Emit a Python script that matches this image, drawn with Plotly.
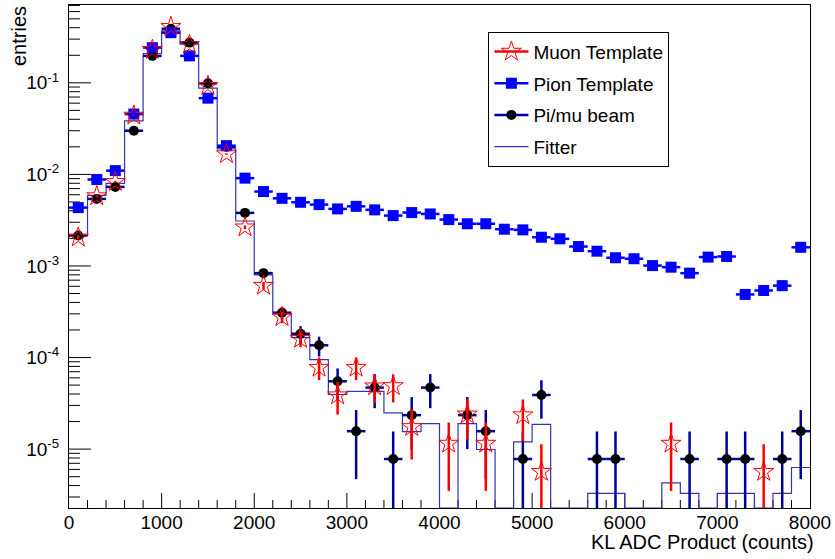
import math
import plotly.graph_objects as go

# ---------------- data ----------------
BIN_WIDTH = 200
bin_centers = list(range(100, 8000, 200))  # 40 bins, 0..8000

muon_template = [2.05e-3, 5.8e-3, 8.3e-3, 0.044, 0.23, 0.41, 0.26, 0.093, 0.0167, 2.65e-3,
                 6.1e-4, 2.77e-4, 1.6e-4, 7.76e-5, 3.88e-5, 7.76e-5, 4.86e-5, 4.9e-5, 1.75e-5, None,
                 1.15e-5, 2.4e-5, 1.15e-5, None, 2.35e-5, 5.66e-6, None, None, None, None,
                 None, None, 1.15e-5, None, None, None, None, 5.66e-6, None, None]
muon_err = [1.08e-4, 1.8e-4, 2.2e-4, 5e-4, 1.14e-3, 1.5e-3, 1.2e-3, 7.3e-4, 3.1e-4, 1.2e-4,
            5.9e-5, 4e-5, 3e-5, 2.1e-5, 1.5e-5, 2.1e-5, 1.66e-5, 1.66e-5, 9.8e-6, 0,
            8e-6, 1.13e-5, 8e-6, 0, 1.13e-5, 5.66e-6, 0, 0, 0, 0,
            0, 0, 8e-6, 0, 0, 0, 0, 5.66e-6, 0, 0]

pion_template = [4.34e-3, 8.8e-3, 1.1e-2, 4.56e-2, 0.242, 0.353, 0.197, 0.068, 0.0206, 9.1e-3,
                 6.5e-3, 5.48e-3, 4.96e-3, 4.68e-3, 4.2e-3, 4.48e-3, 4.1e-3, 3.55e-3, 3.83e-3, 3.7e-3,
                 3.21e-3, 2.89e-3, 2.89e-3, 2.52e-3, 2.48e-3, 2.06e-3, 1.98e-3, 1.63e-3, 1.45e-3, 1.23e-3,
                 1.2e-3, 1.01e-3, 9.7e-4, 8.35e-4, 1.25e-3, 1.27e-3, 4.89e-4, 5.4e-4, 6.1e-4, 1.6e-3]

beam_data = [2.15e-3, 5.4e-3, 7.3e-3, 0.030, 0.197, 0.39, 0.275, 0.099, 0.020, 3.8e-3,
             8.35e-4, 3.09e-4, 1.82e-4, 1.36e-4, 5.5e-5, 1.57e-5, 4.7e-5, 7.8e-6, 2.35e-5, 4.7e-5,
             None, 2.35e-5, 1.57e-5, None, 7.8e-6, 3.9e-5, None, None, 7.8e-6, 7.8e-6,
             None, None, None, 7.8e-6, None, 7.8e-6, 7.8e-6, None, 7.8e-6, 1.57e-5]
beam_err = [1.3e-4, 2e-4, 2.4e-4, 4.8e-4, 1.24e-3, 1.7e-3, 1.5e-3, 8.8e-4, 4e-4, 1.7e-4,
            8e-5, 4.9e-5, 3.8e-5, 3.3e-5, 2.1e-5, 1.1e-5, 1.9e-5, 7.8e-6, 1.35e-5, 1.9e-5,
            0, 1.35e-5, 1.1e-5, 0, 7.8e-6, 1.75e-5, 0, 0, 7.8e-6, 7.8e-6,
            0, 0, 0, 7.8e-6, 0, 7.8e-6, 7.8e-6, 0, 7.8e-6, 1.1e-5]

fitter = [2.15e-3, 5.9e-3, 8.0e-3, 0.0385, 0.209, 0.37, 0.264, 0.0875, 0.019, 3.1e-3,
          8.0e-4, 3.0e-4, 1.65e-4, 9.5e-5, 3.95e-5, 4.28e-5, 4.28e-5, 2.49e-5, 1.55e-5, 1.9e-5,
          0, 1.9e-5, 9.9e-6, 0, 1.2e-5, 1.86e-5, 0, 0, 3.28e-6, 3.28e-6,
          0, 0, 4.28e-6, 3.28e-6, 0, 3.28e-6, 3.28e-6, 0, 3.28e-6, 6.3e-6]

x_tick_vals = [0, 1000, 2000, 3000, 4000, 5000, 6000, 7000, 8000]
y_tick_vals = [1e-5, 1e-4, 1e-3, 1e-2, 1e-1]
y_tick_text = ["10<sup>-5</sup>", "10<sup>-4</sup>", "10<sup>-3</sup>", "10<sup>-2</sup>", "10<sup>-1</sup>"]

# ---------------- styling ----------------
FONT = "Liberation Sans, Arial, Helvetica, sans-serif"
RED = "#ff0000"
BLUE = "#0000ff"
NAVY = "#000099"
FIT_C = "#3434b0"
Y_LOG_RANGE = [-5.643, -0.150]
X_RANGE = [0, 8000]
W, H = 835, 559
MARGIN = dict(l=69, r=22, t=4, b=51)
PLOT_W = W - MARGIN["l"] - MARGIN["r"]
PLOT_H = H - MARGIN["t"] - MARGIN["b"]

half_w = [BIN_WIDTH / 2] * len(bin_centers)
floor = 10 ** Y_LOG_RANGE[0]
edges = [c - BIN_WIDTH / 2 for c in bin_centers] + [bin_centers[-1] + BIN_WIDTH / 2]
fit_plot = [v if v > 0 else floor for v in fitter]
fit_plot = fit_plot + [fit_plot[-1]]

fig = go.Figure()

# ---- ROOT-style inside tick marks, drawn as a line trace built from the tick lists ----
x_per_px = (X_RANGE[1] - X_RANGE[0]) / PLOT_W
dec_per_px = (Y_LOG_RANGE[1] - Y_LOG_RANGE[0]) / PLOT_H
lo, hi = Y_LOG_RANGE
tx, ty = [], []
for v in y_tick_vals:  # major y ticks, 22 px
    tx += [X_RANGE[0], X_RANGE[0] + 22 * x_per_px, None]
    ty += [v, v, None]
for e in range(-6, 0):  # minor y ticks, 11 px
    for m in range(2, 10):
        v = m * 10 ** e
        if lo < math.log10(v) < hi:
            tx += [X_RANGE[0], X_RANGE[0] + 11 * x_per_px, None]
            ty += [v, v, None]
for v in x_tick_vals:  # major x ticks, 15 px
    if X_RANGE[0] < v < X_RANGE[1]:
        tx += [v, v, None]
        ty += [floor, 10 ** (lo + 15 * dec_per_px), None]
for v in range(X_RANGE[0] + 200, X_RANGE[1], 200):  # minor x ticks, 8 px
    if v % 1000 != 0:
        tx += [v, v, None]
        ty += [floor, 10 ** (lo + 8 * dec_per_px), None]
fig.add_trace(go.Scatter(x=tx, y=ty, mode="lines", line=dict(color="black", width=1),
                         showlegend=False, hoverinfo="skip", connectgaps=False))

fig.add_trace(go.Scatter(x=edges, y=fit_plot, mode="lines",
                         line=dict(shape="hv", color=FIT_C, width=1.2),
                         showlegend=False, hoverinfo="skip"))

fig.add_trace(go.Scatter(x=bin_centers, y=beam_data, mode="markers",
                         marker=dict(symbol="circle", size=10, color="black"),
                         error_y=dict(type="data", array=beam_err, color=NAVY, thickness=2.5, width=0),
                         error_x=dict(type="data", array=half_w, color=NAVY, thickness=2.5, width=0),
                         showlegend=False))

fig.add_trace(go.Scatter(x=bin_centers, y=pion_template, mode="markers",
                         marker=dict(symbol="square", size=11, color=BLUE),
                         error_x=dict(type="data", array=half_w, color=BLUE, thickness=2.5, width=0),
                         showlegend=False))

fig.add_trace(go.Scatter(x=bin_centers, y=muon_template, mode="markers",
                         marker=dict(symbol="star-open", size=15, color=RED, line=dict(width=1, color=RED)),
                         error_y=dict(type="data", array=muon_err, color=RED, thickness=2.5, width=0),
                         showlegend=False))

# legend-only entries (a single point placed outside the visible x range)
legend_items = [
    ("Muon Template", "lines+markers", dict(symbol="star-open", size=15, color=RED, line=dict(width=1, color=RED)), dict(color=RED, width=2.5)),
    ("Pion Template", "lines+markers", dict(symbol="square", size=11, color=BLUE), dict(color=BLUE, width=2.5)),
    ("Pi/mu beam", "lines+markers", dict(symbol="circle", size=10, color="black"), dict(color=NAVY, width=2.5)),
    ("Fitter", "lines", None, dict(color=FIT_C, width=1.2)),
]
for i, (name, mode, mk, ln) in enumerate(legend_items):
    kw = dict(x=[-5000], y=[1e-3], mode=mode, name=name, line=ln, legendgroup=f"g{i}",
              showlegend=True, hoverinfo="skip")
    if mk is not None:
        kw["marker"] = mk
    fig.add_trace(go.Scatter(**kw))

fig.update_layout(
    width=W, height=H,
    margin=MARGIN,
    plot_bgcolor="white",
    showlegend=True,
    legend=dict(x=0.566, y=0.947, xanchor="left", yanchor="top",
                bgcolor="white", bordercolor="black", borderwidth=1,
                font=dict(family=FONT, size=19, color="black"),
                traceorder="grouped", tracegroupgap=4, itemwidth=34),
    xaxis=dict(range=X_RANGE, tickmode="array", tickvals=x_tick_vals, ticks="",
               showline=True, linecolor="black", linewidth=1, mirror=True,
               showgrid=False, zeroline=False,
               tickfont=dict(family=FONT, size=19, color="black"), ticklabelstandoff=-3),
    yaxis=dict(type="log", range=Y_LOG_RANGE, tickmode="array", tickvals=y_tick_vals, ticktext=y_tick_text,
               ticks="",
               showline=True, linecolor="black", linewidth=1, mirror=True,
               showgrid=False, zeroline=False,
               tickfont=dict(family=FONT, size=19, color="black"), ticklabelstandoff=5),
    annotations=[
        dict(text="KL ADC Product (counts)", xref="paper", yref="paper", x=1, y=0,
             xanchor="right", yanchor="middle", xshift=6, yshift=-34, showarrow=False,
             font=dict(family=FONT, size=20, color="black")),
        dict(text="entries", xref="paper", yref="paper", x=0, y=1,
             xanchor="center", yanchor="top", xshift=-50, yshift=1, textangle=-90, showarrow=False,
             font=dict(family=FONT, size=20, color="black")),
    ],
)

fig.write_html("out.html", config={"displayModeBar": False},
               post_script="document.body.style.margin='0';")
